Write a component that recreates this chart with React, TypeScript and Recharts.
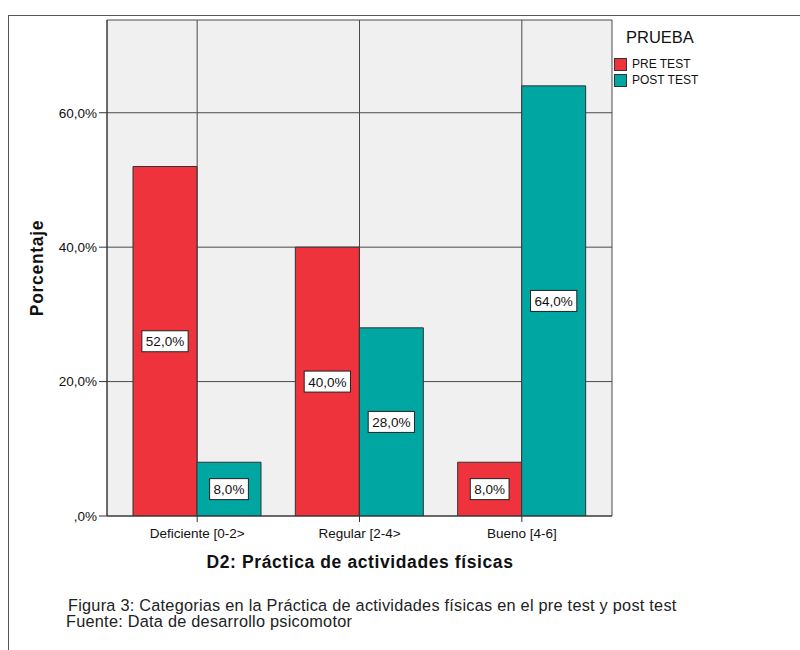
import React from "react";
import {
  BarChart,
  Bar,
  XAxis,
  YAxis,
  CartesianGrid,
  Legend,
  LabelList,
  Label,
} from "recharts";

const categories = ["Deficiente [0-2>", "Regular [2-4>", "Bueno [4-6]"];
const preTest = [52, 40, 8];
const postTest = [8, 28, 64];
const yTicks = [0, 20, 40, 60];
const seriesNames = ["PRE TEST", "POST TEST"];
const seriesColors = ["#EF333C", "#00A6A1"];

const Y_MAX = 73.8;
const FONT = "Arial, 'Liberation Sans', Helvetica, sans-serif";

const data = categories.map((c, i) => ({
  categoria: c,
  pre: preTest[i],
  post: postTest[i],
}));

const fmtPct = (v: number) => (v === 0 ? ",0%" : `${v.toFixed(1).replace(".", ",")}%`);

let ctx: CanvasRenderingContext2D | null = null;
function textWidth(s: string, font: string) {
  if (!ctx) ctx = document.createElement("canvas").getContext("2d");
  if (!ctx) return s.length * 7;
  ctx.font = font;
  return ctx.measureText(s).width;
}

// white boxed value label in the middle of each bar
const BoxLabel = (props: any) => {
  const { x, y, width, height, value } = props;
  const txt = fmtPct(Number(value));
  const w = textWidth(txt, `13.5px ${FONT}`) + 8;
  const h = 21;
  const cx = x + width / 2;
  const cy = y + height / 2;
  return (
    <g>
      <rect x={cx - w / 2} y={cy - h / 2} width={w} height={h} fill="#fff" stroke="#222" strokeWidth={1} />
      <text x={cx} y={cy + 5} textAnchor="middle" fontSize={13.5} fontFamily={FONT} fill="#111">
        {txt}
      </text>
    </g>
  );
};

const LegendBox = () => (
  <div style={{ fontFamily: FONT, color: "#111" }}>
    <div style={{ fontSize: 16.5, marginLeft: 12, lineHeight: "20px", marginBottom: 9 }}>PRUEBA</div>
    {seriesNames.map((n, i) => (
      <div key={n} style={{ display: "flex", alignItems: "center", height: 16 }}>
        <span
          style={{
            width: 11,
            height: 11,
            background: seriesColors[i],
            border: "1px solid #333",
            display: "inline-block",
            marginRight: 5,
          }}
        />
        <span style={{ fontSize: 12 }}>{n}</span>
      </div>
    ))}
  </div>
);

const captionStyle: React.CSSProperties = {
  position: "absolute",
  fontSize: 16.3,
  letterSpacing: 0.25,
  color: "#222",
  lineHeight: "17px",
  whiteSpace: "nowrap",
};

export default function App() {
  return (
    <div style={{ position: "absolute", left: 0, top: 0, width: 800, height: 650, background: "#fff", fontFamily: FONT }}>
      {/* frame */}
      <div style={{ position: "absolute", left: 8, top: 15, width: 792, height: 1, background: "#555" }} />
      <div style={{ position: "absolute", left: 8, top: 15, width: 1, height: 635, background: "#555" }} />

      <BarChart
        width={800}
        height={650}
        data={data}
        margin={{ top: 20, right: 188, bottom: 104, left: 40 }}
        barCategoryGap={17}
        barGap={0}
      >
        <CartesianGrid stroke="#4a4a4a" strokeWidth={1} fill="#F0F0F0" fillOpacity={1} />
        <XAxis
          dataKey="categoria"
          padding={{ left: 9, right: 9 }}
          height={30}
          tickSize={6}
          tickMargin={6}
          tick={{ fontSize: 13.5, fill: "#111", fontFamily: FONT }}
          stroke="#333"
          interval={0}
        >
          <Label
            content={() => (
              <text
                x={360}
                y={568}
                textAnchor="middle"
                fontSize={17.5}
                fontWeight="bold"
                letterSpacing={0.6}
                fontFamily={FONT}
                fill="#111"
              >
                D2: Práctica de actividades físicas
              </text>
            )}
          />
        </XAxis>
        {/* top and right edges of the plot frame */}
        <XAxis
          xAxisId="top"
          orientation="top"
          dataKey="categoria"
          height={0}
          tick={false}
          tickLine={false}
          stroke="#444"
        />
        <YAxis
          yAxisId="right"
          orientation="right"
          width={0}
          domain={[0, Y_MAX]}
          tick={false}
          tickLine={false}
          stroke="#444"
        />
        <YAxis
          width={67}
          domain={[0, Y_MAX]}
          ticks={yTicks}
          tickFormatter={fmtPct}
          tickSize={8}
          tickMargin={2}
          tick={{ fontSize: 13.5, fill: "#111", fontFamily: FONT }}
          stroke="#333"
          allowDataOverflow
        >
          <Label
            content={() => (
              <text
                x={43}
                y={268}
                transform="rotate(-90 43 268)"
                textAnchor="middle"
                fontSize={17.5}
                fontWeight="bold"
                letterSpacing={0.7}
                fontFamily={FONT}
                fill="#111"
              >
                Porcentaje
              </text>
            )}
          />
        </YAxis>
        <Legend
          layout="vertical"
          verticalAlign="middle"
          align="center"
          content={() => <LegendBox />}
          wrapperStyle={{ position: "absolute", left: 614, top: 27, width: 150 }}
        />
        <Bar dataKey="pre" name={seriesNames[0]} fill={seriesColors[0]} stroke="#333" strokeWidth={1} isAnimationActive={false}>
          <LabelList dataKey="pre" content={BoxLabel} />
        </Bar>
        <Bar dataKey="post" name={seriesNames[1]} fill={seriesColors[1]} stroke="#333" strokeWidth={1} isAnimationActive={false}>
          <LabelList dataKey="post" content={BoxLabel} />
        </Bar>
      </BarChart>

      <div style={{ ...captionStyle, left: 68, top: 596.5 }}>
        Figura 3: Categorias en la Práctica de actividades físicas en el pre test y post test
      </div>
      <div style={{ ...captionStyle, left: 66, top: 613 }}>
        Fuente: Data de desarrollo psicomotor
      </div>
    </div>
  );
}
